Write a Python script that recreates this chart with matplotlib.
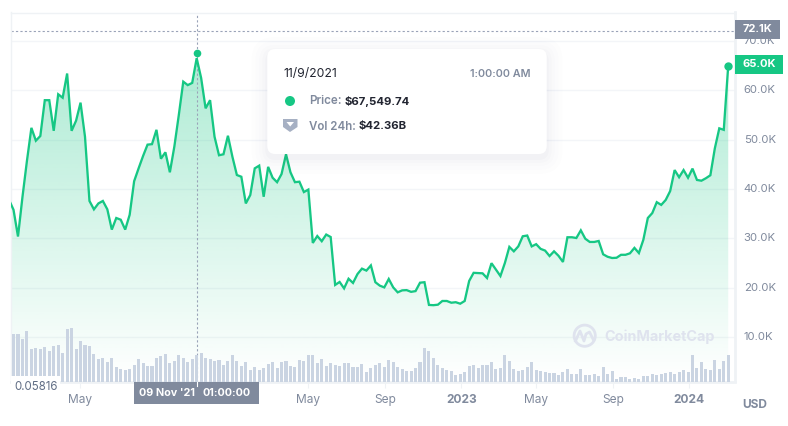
import datetime as dt
import numpy as np
import matplotlib
matplotlib.use('Agg')
import matplotlib.pyplot as plt
import matplotlib.dates as mdates
from matplotlib.patches import FancyBboxPatch, Rectangle, Circle, Polygon

plt.rcParams['font.family'] = ['Inter', 'DejaVu Sans']

# price in thousands of USD, one sample every 7.15 days
price = [37.8, 35.8, 30.4, 38.4, 45.7, 52.4, 49.8, 50.75, 58.0, 58.0, 51.8, 59.2, 58.5, 63.4, 51.8, 53.85,
         57.5, 50.6, 37.6, 35.9, 37.1, 37.6, 35.9, 31.8, 34.15, 33.8, 31.8, 34.8, 41.6, 44.2, 46.7, 49.0,
         49.1, 52.0, 46.15, 47.45, 43.4, 48.6, 55.0, 61.75, 61.05, 61.5, 66.5, 62.5, 56.35, 58.0, 50.6, 46.85,
         47.05, 50.8, 46.55, 42.85, 42.5, 37.1, 38.8, 44.2, 44.75, 38.45, 44.5, 42.3, 41.4, 43.05, 47.05, 43.4,
         41.4, 41.5, 39.4, 39.9, 29.1, 30.5, 29.45, 30.8, 30.3, 20.6, 21.2, 19.9, 21.85, 21.0, 22.8, 23.9,
         23.5, 24.55, 21.15, 20.45, 20.1, 21.8, 20.1, 19.1, 19.5, 19.55, 19.2, 19.35, 21.05, 21.15, 16.55, 16.5,
         16.6, 17.35, 17.35, 17.0, 17.1, 16.8, 17.35, 21.4, 23.05, 23.0, 22.95, 22.0, 25.0, 23.7, 22.4, 25.05,
         28.3, 27.4, 28.4, 30.45, 30.6, 28.4, 28.85, 27.9, 27.55, 26.45, 27.4, 26.5, 25.25, 30.25, 30.25, 30.1,
         31.65, 29.95, 29.3, 29.3, 29.5, 26.8, 26.3, 26.05, 26.1, 26.7, 26.7, 27.0, 28.1, 27.05, 29.75, 34.15,
         35.15, 37.35, 36.8, 37.8, 39.6, 43.85, 42.4, 43.85, 42.3, 44.15, 41.85, 41.7, 42.2, 42.8, 48.25, 52.3,
         52.0, 65.0]

# 24h volume in billions of USD, starts at the second price sample
volume = [75.1, 75.1, 67.1, 79.8, 51.3, 52.9, 51.3, 54.5, 48.1, 56.0, 57.6, 44.9, 83.0, 84.6, 51.3,
          64.0, 57.6, 56.0, 43.4, 35.4, 37.0, 30.7, 37.0, 22.7, 19.6, 18.0, 19.6, 25.9, 35.4, 29.1, 24.3,
          24.3, 37.0, 40.2, 43.4, 29.1, 32.3, 41.8, 37.0, 30.7, 35.4, 42.36, 44.9, 37.0, 35.4, 32.3, 33.8,
          25.9, 32.3, 41.8, 32.3, 24.3, 30.7, 18.0, 22.7, 18.0, 21.1, 27.5, 30.7, 21.1, 30.7, 32.3, 24.3,
          22.7, 33.8, 32.8, 41.8, 41.8, 29.1, 35.4, 24.3, 29.1, 25.9, 24.8, 29.1, 29.1, 22.7, 22.7, 27.5,
          14.8, 21.1, 25.9, 29.1, 22.7, 33.8, 30.7, 22.7, 20.1, 16.4, 16.4, 21.1, 30.7, 52.9, 48.1, 37.0,
          25.9, 21.1, 18.0, 16.4, 10.0, 11.6, 14.8, 24.3, 25.9, 21.1, 25.9, 25.9, 30.7, 19.6, 21.1, 41.8,
          32.3, 19.6, 16.4, 18.0, 22.7, 30.7, 18.0, 16.4, 14.8, 13.2, 13.2, 10.0, 14.8, 19.6, 11.6, 11.6,
          19.6, 10.0, 10.0, 11.6, 8.5, 22.7, 11.6, 16.4, 3.7, 6.9, 6.9, 3.7, 5.3, 3.7, 9.0, 8.5,
          11.6, 10.0, 11.6, 13.2, 14.8, 11.6, 14.8, 18.0, 14.8, 41.8, 21.1, 30.7, 19.6, 18.0, 33.8, 19.6,
          32.3, 41.8]

y_ticks = [10, 20, 30, 40, 50, 60, 70]
x_tick_dates = [dt.date(2021, 5, 1), dt.date(2022, 5, 1), dt.date(2022, 9, 1),
                dt.date(2023, 1, 1), dt.date(2023, 5, 1), dt.date(2023, 9, 1), dt.date(2024, 1, 1)]
x_tick_labels = ['May', 'May', 'Sep', '2023', 'May', 'Sep', '2024']
bold_labels = ['2023', '2024']

hover_index = 42
hover_price = 67.54974
ath_price = 72.1

GREEN = '#16c784'
GREY = '#808a9d'
FRAME = '#eff2f5'
W, H = 788, 426

start = mdates.date2num(dt.date(2021, 1, 7))
x = start + np.arange(len(price)) * 7.15

fig = plt.figure(figsize=(W / 100, H / 100), dpi=100)
ax = fig.add_axes([10.5 / W, 1 - 381.5 / H, 724.2 / W, 369 / H])
ax.set_xlim(start + 2.3, start + 1161.5)
ax.set_ylim(1.05, 75.75)

ax.grid(axis='y', color='#f3f5f8', lw=1)
ax.set_axisbelow(True)
ax.set_yticks(y_ticks)
ax.set_yticklabels([f'{v:.1f}K' for v in y_ticks], va='center')
ax.tick_params(axis='y', length=0, pad=6.5, labelsize=8.2, labelcolor=GREY)
ax.set_xticks(mdates.date2num(x_tick_dates))
ax.set_xticklabels(x_tick_labels)
ax.tick_params(axis='x', length=4, width=0.8, color=FRAME, pad=5, labelsize=8.6, labelcolor=GREY)
for label in ax.get_xticklabels():
    if label.get_text() in bold_labels:
        label.set_fontweight('bold')
for side, width in [('top', 1), ('left', 1), ('right', 2), ('bottom', 2)]:
    ax.spines[side].set_color(FRAME)
    ax.spines[side].set_linewidth(width)

# green area, fading towards the bottom
rgb = matplotlib.colors.to_rgb(GREEN)
gradient = np.ones((256, 1, 4))
gradient[:, 0, :3] = rgb
gradient[:, 0, 3] = np.linspace(0.40, 0.0, 256)
fill = ax.fill_between(x, price, 1.05, color='none', lw=0)
image = ax.imshow(gradient, aspect='auto', extent=[start, x[-1], 1.05, 75.75], zorder=1, origin='upper')
image.set_clip_path(fill.get_paths()[0], transform=ax.transData)
ax.set_xlim(start + 2.3, start + 1161.5)
ax.set_ylim(1.05, 75.75)

ax.plot(x, price, color=GREEN, lw=1.65, zorder=3, solid_joinstyle='miter')
ax.axhline(ath_price, color='#9aa3b8', lw=0.8, ls=(0, (2, 2)), zorder=2)
ax.axvline(x[hover_index] + 0.8, color='#9aa3b8', lw=0.8, ls=(0, (2, 2)), zorder=2)
ax.scatter([x[hover_index]], [hover_price], s=30, color=GREEN, zorder=4, lw=0)
ax.scatter([x[-1]], [price[-1]], s=36, color=GREEN, zorder=4, lw=0)

# volume bars on their own scale
ax_vol = ax.twinx()
ax_vol.set_ylim(0, 585)
ax_vol.bar(x[1:], volume, width=4.9, color='#cad4e2', lw=0)
ax_vol.axis('off')
ax.yaxis.tick_right()  # twinx moved them back to the left

# pixel overlay for labels and tooltip
top = fig.add_axes([0, 0, 1, 1], zorder=10)
top.set_xlim(0, W)
top.set_ylim(H, 0)
top.axis('off')
top.patch.set_alpha(0)

# watermark
top.add_patch(Circle((584.7, 335.7), 10.6, fill=False, ec='#dfe3ee', lw=2))
top.plot([575.5, 580, 584, 586, 589.5, 593.5], [341, 331, 341, 334, 332, 340], color='#dfe3ee', lw=2)
top.text(604, 337, 'CoinMarketCap', fontsize=10.4, fontweight='bold', color='#dfe3ee', va='center')

# price and bottom labels
top.add_patch(Rectangle((734.7, 20), 45.3, 19, color=GREY, lw=0))
top.text(757.3, 29.5, '72.1K', color='white', fontsize=8, fontweight='bold', ha='center', va='center')
top.add_patch(Rectangle((734.7, 55), 48.3, 19, color=GREEN, lw=0))
top.text(758.8, 64.3, '65.0K', color='white', fontsize=8, fontweight='bold', ha='center', va='center')
top.add_patch(Rectangle((134, 382), 125, 21.7, color=GREY, lw=0))
top.plot([197, 197], [382, 386], color='white', lw=0.8)
top.text(166.8, 393, "09 Nov '21", color='white', fontsize=7.8, fontweight='bold', ha='center', va='center')
top.text(226.7, 393, '01:00:00', color='white', fontsize=7.8, fontweight='bold', ha='center', va='center')
top.add_patch(Rectangle((11, 376.3), 49, 19, color='white', lw=0))
top.text(14.7, 387, '0.05816', color='#616e85', fontsize=8.3, va='center')
top.text(755, 404.7, 'USD', color=GREY, fontsize=8.6, fontweight='bold', ha='center', va='center')

# tooltip with a soft shadow
for grow, alpha in [(16, 0.006), (12, 0.008), (8, 0.012), (5, 0.016), (2, 0.025)]:
    top.add_patch(FancyBboxPatch((267.3 - grow, 49 + 4 - grow), 279.4 + 2 * grow, 105 + 2 * grow,
                                 boxstyle=f'round,pad=0,rounding_size={8 + grow}',
                                 fc='#58667e', ec='none', alpha=alpha))
top.add_patch(FancyBboxPatch((267.3, 49), 279.4, 105, boxstyle='round,pad=0,rounding_size=8',
                             fc='white', ec='none'))
top.text(283, 74, '11/9/2021', color='#222531', fontsize=8.8, va='center')
top.text(530.7, 74, '1:00:00 AM', color=GREY, fontsize=7.8, fontweight='semibold', ha='right', va='center')
top.add_patch(Circle((290, 101), 5, color=GREEN, lw=0))
top.text(308.7, 101.5, 'Price:', color=GREY, fontsize=8.4, fontweight='semibold', va='center')
top.text(344.6, 101.5, '$67,549.74', color='#222531', fontsize=8.2, fontweight='bold', va='center')
top.add_patch(Polygon([(283, 119), (297.5, 119), (297.5, 127), (290, 132), (283, 127)], color='#a6b0c3', lw=0))
top.add_patch(Polygon([(286.5, 122), (294, 122), (290.2, 126.5)], color='white', lw=0))
top.text(308.7, 126.5, 'Vol 24h:', color=GREY, fontsize=8.3, fontweight='semibold', va='center')
top.text(359, 126.5, '$42.36B', color='#222531', fontsize=8.2, fontweight='bold', va='center')

fig.savefig('out.png', dpi=100)
